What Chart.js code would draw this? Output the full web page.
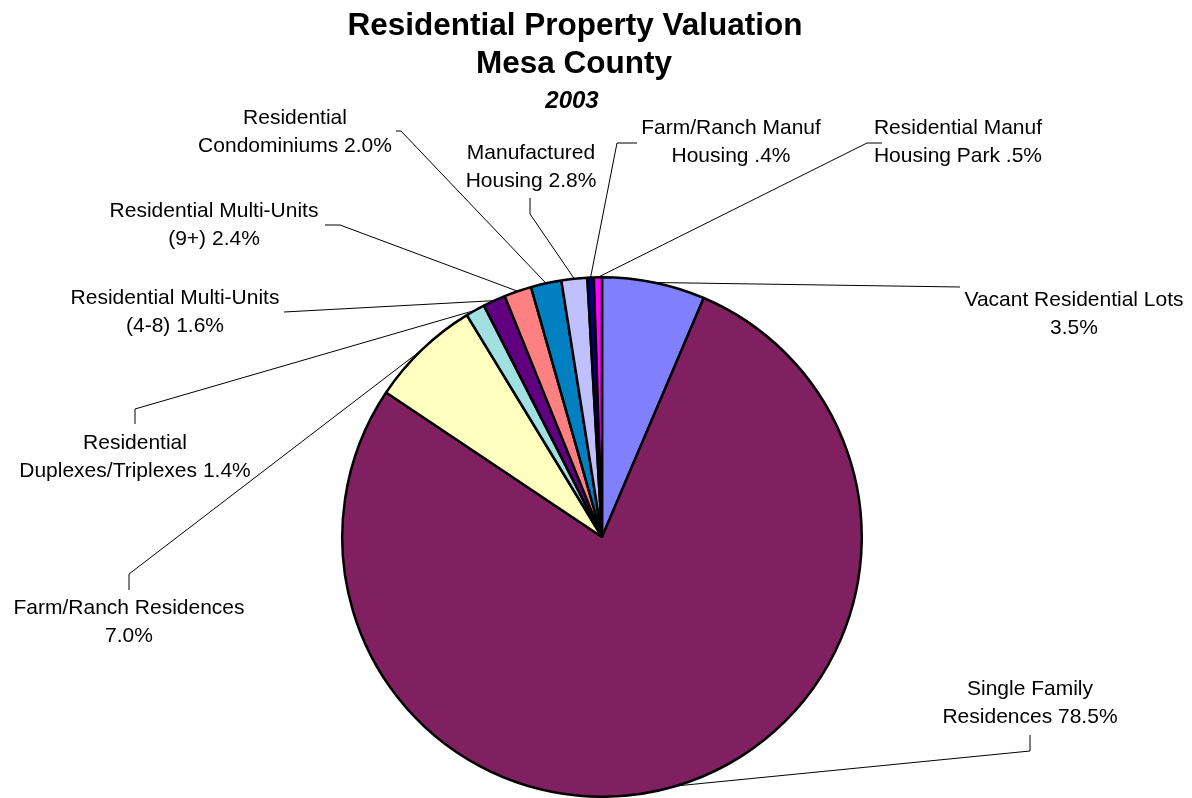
<!DOCTYPE html>
<html>
<head>
<meta charset="utf-8">
<title>Residential Property Valuation - Mesa County 2003</title>
<script src="https://cdn.jsdelivr.net/npm/chart.js"></script>
<style>
  body { margin: 0; background: #fff; }
  #wrap { width: 1192px; height: 798px; }
</style>
</head>
<body>
<div id="wrap"><canvas id="pie" width="1192" height="798"></canvas></div>
<script>
// categories in the order Excel draws them (clockwise from 12 o'clock)
const categories = [
  "Vacant Residential Lots",
  "Single Family Residences",
  "Farm/Ranch Residences",
  "Residential Duplexes/Triplexes",
  "Residential Multi-Units (4-8)",
  "Residential Multi-Units (9+)",
  "Residential Condominiums",
  "Manufactured Housing",
  "Farm/Ranch Manuf Housing",
  "Residential Manuf Housing Park"
];

// slice shares (percent)
const shares = [6.4, 77.9, 6.9, 1.2, 1.4, 1.7, 1.9, 1.6, 0.4, 0.5];

// data label text as printed on the chart
const labelTexts = [
  ["Vacant Residential Lots", "3.5%"],
  ["Single Family", "Residences 78.5%"],
  ["Farm/Ranch Residences", "7.0%"],
  ["Residential", "Duplexes/Triplexes 1.4%"],
  ["Residential Multi-Units", "(4-8) 1.6%"],
  ["Residential Multi-Units", "(9+) 2.4%"],
  ["Residential", "Condominiums 2.0%"],
  ["Manufactured", "Housing 2.8%"],
  ["Farm/Ranch Manuf", "Housing .4%"],
  ["Residential Manuf", "Housing Park .5%"]
];

const sliceColors = [
  "#8080FF", "#802060", "#FFFFC0", "#A0E0E0", "#600080",
  "#FF8080", "#0080C0", "#C0C0FF", "#000080", "#FF00FF"
];

const titleLines = ["Residential Property Valuation", "Mesa County"];
const subTitle = "2003";

// where each label sits (centre x, first line y) and the bends of its leader line
const labelPos = [
  [1074, 300], [1030, 689], [129, 608], [135, 443], [175, 298],
  [214, 211], [295, 118], [531, 153], [731, 128], [958, 128]
];
const leaderBends = [
  [[960, 287]],
  [[1030, 751], [1030, 735]],
  [[129, 574], [129, 590]],
  [[135, 409], [135, 424]],
  [[284, 312]],
  [[340, 225], [325, 225]],
  [[401, 131], [396, 131]],
  [[530, 214], [530, 198]],
  [[617, 143], [637, 143]],
  [[867, 143], [882, 143]]
];

const FONT = "'Liberation Sans', Arial, Helvetica, sans-serif";

const labelPlugin = {
  id: "pieLabels",
  afterDraw(chart) {
    const ctx = chart.ctx;
    const arcs = chart.getDatasetMeta(0).data;
    ctx.save();

    // leader lines
    ctx.strokeStyle = "#000";
    ctx.lineWidth = 1;
    arcs.forEach((arc, i) => {
      const p = arc.getProps(["x", "y", "startAngle", "endAngle", "outerRadius"], true);
      const mid = (p.startAngle + p.endAngle) / 2;
      const ax = p.x + Math.cos(mid) * p.outerRadius;
      const ay = p.y + Math.sin(mid) * p.outerRadius;
      ctx.beginPath();
      ctx.moveTo(ax, ay);
      leaderBends[i].forEach(pt => ctx.lineTo(pt[0], pt[1]));
      ctx.stroke();
    });

    // data labels
    ctx.fillStyle = "#000";
    ctx.textAlign = "center";
    ctx.textBaseline = "middle";
    ctx.font = "21px " + FONT;
    labelTexts.forEach((lines, i) => {
      lines.forEach((t, j) => {
        ctx.fillText(t, labelPos[i][0], labelPos[i][1] + j * 28);
      });
    });

    // title
    ctx.font = "bold 31.5px " + FONT;
    ctx.fillText(titleLines[0], 575, 26);
    ctx.fillText(titleLines[1], 574, 64);
    ctx.font = "italic bold 24px " + FONT;
    ctx.fillText(subTitle, 572, 101);

    ctx.restore();
  }
};

new Chart(document.getElementById("pie"), {
  type: "pie",
  data: {
    labels: categories,
    datasets: [{
      data: shares,
      backgroundColor: sliceColors,
      borderColor: "#000",
      borderWidth: 2.5
    }]
  },
  options: {
    responsive: false,
    animation: false,
    layout: {
      padding: { left: 341, right: 329, top: 276, bottom: 0 }
    },
    plugins: {
      legend: { display: false },
      tooltip: { enabled: false },
      title: { display: false }
    }
  },
  plugins: [labelPlugin]
});
</script>
</body>
</html>
